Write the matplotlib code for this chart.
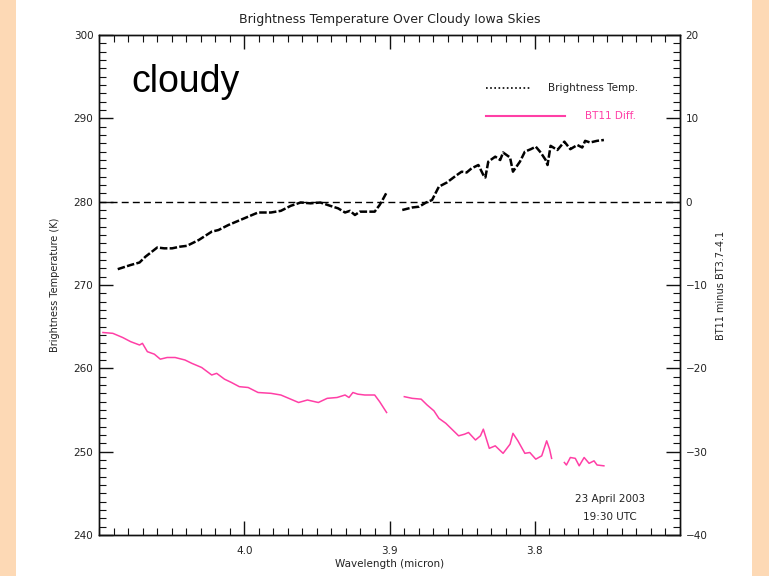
import numpy as np
import matplotlib
matplotlib.use("Agg")
import matplotlib.pyplot as plt
from matplotlib.patches import Rectangle
from matplotlib.ticker import MultipleLocator, FixedLocator
from matplotlib.lines import Line2D

# Brightness temperature (K) versus wavelength (micron)
bt_wavelength = [4.0871, 4.0782, 4.0721, 4.0680, 4.0599, 4.0551, 4.0497, 4.0442, 4.0395,
                 4.0313, 4.0224, 4.0177, 4.0109, 4.0041, 3.9973, 3.9905, 3.9816, 3.9748,
                 3.9680, 3.9612, 3.9544, 3.9476, 3.9408, 3.9354, 3.9306, 3.9272, 3.9238,
                 3.9204, 3.9156, 3.9102, 3.9068, 3.9048, 3.9020, np.nan,
                 3.8912, 3.8844, 3.8796, 3.8748, 3.8707, 3.8660, 3.8605, 3.8544, 3.8503,
                 3.8469, 3.8435, 3.8388, 3.8354, 3.8340, 3.8320, 3.8272, 3.8238, 3.8218,
                 3.8170, 3.8150, 3.8102, 3.8068, 3.8027, 3.7993, 3.7959, 3.7925, 3.7912,
                 3.7891, 3.7844, 3.7796, 3.7755, 3.7707, 3.7673, 3.7653, 3.7619, 3.7571,
                 3.7524]
bt_values = [271.9, 272.4, 272.7, 273.4, 274.5, 274.4, 274.4, 274.6, 274.7,
             275.4, 276.4, 276.6, 277.2, 277.7, 278.2, 278.7, 278.7, 278.9,
             279.5, 279.9, 279.8, 279.9, 279.5, 279.2, 278.7, 278.9, 278.4,
             278.8, 278.8, 278.8, 279.6, 280.2, 281.1, np.nan,
             279.0, 279.3, 279.4, 279.9, 280.2, 281.8, 282.3, 283.1, 283.6,
             283.5, 284.0, 284.4, 283.2, 282.9, 284.8, 285.4, 285.0, 285.9,
             285.3, 283.6, 284.8, 286.0, 286.3, 286.6, 285.9, 285.0, 284.4,
             286.7, 286.2, 287.2, 286.3, 286.8, 286.5, 287.3, 287.1, 287.3,
             287.4]

# BT11 minus BT(3.7-4.1) difference (K)
diff_wavelength = [4.0973, 4.0905, 4.0837, 4.0782, 4.0721, 4.0701, 4.0667, 4.0619, 4.0578,
                   4.0531, 4.0476, 4.0408, 4.0361, 4.0293, 4.0224, 4.0190, 4.0136, 4.0088,
                   4.0034, 3.9973, 3.9905, 3.9816, 3.9748, 3.9680, 3.9626, 3.9565, 3.9490,
                   3.9429, 3.9361, 3.9306, 3.9279, 3.9252, 3.9218, 3.9170, 3.9102, 3.9068,
                   3.9020, np.nan,
                   3.8898, 3.8844, 3.8782, 3.8741, 3.8694, 3.8660, 3.8612, 3.8571, 3.8524,
                   3.8483, 3.8456, 3.8408, 3.8374, 3.8354, 3.8313, 3.8272, 3.8218, 3.8170,
                   3.8150, 3.8116, 3.8068, 3.8034, 3.7993, 3.7952, 3.7918, 3.7898, 3.7884,
                   np.nan,
                   3.7796, 3.7782, 3.7755, 3.7721, 3.7694, 3.7660, 3.7626, 3.7592, 3.7571,
                   3.7524]
diff_values = [-15.7, -15.8, -16.3, -16.8, -17.2, -17.0, -18.0, -18.3, -18.9,
               -18.7, -18.7, -19.0, -19.4, -19.9, -20.8, -20.6, -21.3, -21.7,
               -22.2, -22.3, -22.9, -23.0, -23.2, -23.7, -24.1, -23.8, -24.1,
               -23.6, -23.5, -23.2, -23.5, -22.9, -23.1, -23.2, -23.2, -24.0,
               -25.3, np.nan,
               -23.4, -23.6, -23.7, -24.4, -25.1, -26.0, -26.6, -27.3, -28.1,
               -27.9, -27.7, -28.6, -28.1, -27.3, -29.6, -29.3, -30.2, -29.1,
               -27.8, -28.7, -30.2, -30.1, -30.9, -30.5, -28.7, -29.7, -30.8,
               np.nan,
               -31.3, -31.6, -30.7, -30.8, -31.7, -30.7, -31.4, -31.1, -31.6,
               -31.7]

x_ticks = [4.0, 3.9, 3.8]
x_tick_labels = ["4.0", "3.9", "3.8"]
bt_reference = 280.0

TEXT = "#222222"
PINK = "#ff3fa6"
PEACH = "#fdd9b5"

plt.rcParams["font.family"] = ["DejaVu Sans"]

fig = plt.figure(figsize=(7.69, 5.76), dpi=100, facecolor="white")
fig.patches.append(Rectangle((0, 0), 16 / 769, 1, transform=fig.transFigure,
                             facecolor=PEACH, edgecolor="none", zorder=0))
fig.patches.append(Rectangle((752 / 769, 0), 17 / 769, 1, transform=fig.transFigure,
                             facecolor=PEACH, edgecolor="none", zorder=0))

ax = fig.add_axes([99 / 769, 1 - 535 / 576, 581 / 769, 500 / 576])
ax.set_xlim(4.1, 3.7)
ax.set_ylim(240, 300)

ax2 = ax.twinx()
ax2.set_ylim(-40, 20)

# reference line at 280 K / zero difference
ax.axhline(bt_reference, color="black", lw=1.0, linestyle=(0, (5, 3)), zorder=2)

ax.plot(bt_wavelength, bt_values, color="black", lw=1.8,
        linestyle=(0, (3, 0.9)), zorder=3)
ax2.plot(diff_wavelength, diff_values, color=PINK, lw=1.1, zorder=3)

# axis styling: inward ticks on all four sides
for a in (ax, ax2):
    for s in a.spines.values():
        s.set_linewidth(1.0)
        s.set_color("#111111")

ax.xaxis.set_major_locator(FixedLocator(x_ticks))
ax.set_xticklabels(x_tick_labels)
ax.xaxis.set_minor_locator(MultipleLocator(0.01))
ax.yaxis.set_major_locator(MultipleLocator(10))
ax.yaxis.set_minor_locator(MultipleLocator(1))
ax2.yaxis.set_major_locator(MultipleLocator(10))
ax2.yaxis.set_minor_locator(MultipleLocator(1))

ax.tick_params(axis="both", which="major", direction="in", length=10, width=1,
               color="#111111", labelsize=7.5, labelcolor=TEXT, top=True)
ax.tick_params(axis="both", which="minor", direction="in", length=5, width=0.8,
               color="#111111", top=True)
ax.tick_params(axis="x", which="major", pad=8)
ax.tick_params(axis="y", which="major", pad=4)
ax2.tick_params(axis="y", which="major", direction="in", length=10, width=1,
                color="#111111", labelsize=7.5, labelcolor=TEXT, pad=4)
ax2.tick_params(axis="y", which="minor", direction="in", length=5, width=0.8,
                color="#111111")

ax.set_title("Brightness Temperature Over Cloudy Iowa Skies", fontsize=9,
             color=TEXT, pad=9)
ax.set_xlabel("Wavelength (micron)", fontsize=7.5, color=TEXT, labelpad=2)
ax.set_ylabel("Brightness Temperature (K)", fontsize=7, color=TEXT, labelpad=10)
ax2.set_ylabel("BT11 minus BT3.7\u20134.1", fontsize=7, color=TEXT, labelpad=6,
               rotation=90)

# panel label
ax.text(0.055, 0.906, "cloudy", transform=ax.transAxes, fontsize=27,
        family="Liberation Sans", color="black", ha="left", va="center")

# legend
ax.add_line(Line2D([0.666, 0.742], [0.894, 0.894], transform=ax.transAxes,
                   color="black", lw=1.2, linestyle=(0, (1, 1.5))))
ax.text(0.773, 0.894, "Brightness Temp.", transform=ax.transAxes, fontsize=7.5,
        color=TEXT, ha="left", va="center")
ax.add_line(Line2D([0.666, 0.802], [0.838, 0.838], transform=ax.transAxes,
                   color=PINK, lw=1.5))
ax.text(0.836, 0.838, "BT11 Diff.", transform=ax.transAxes, fontsize=7.5,
        color=PINK, ha="left", va="center")

# date stamp
ax.text(0.88, 0.072, "23 April 2003", transform=ax.transAxes, fontsize=7.5,
        color=TEXT, ha="center", va="center")
ax.text(0.88, 0.036, "19:30 UTC", transform=ax.transAxes, fontsize=7.5,
        color=TEXT, ha="center", va="center")

fig.savefig("out.png", dpi=100, facecolor="white")
